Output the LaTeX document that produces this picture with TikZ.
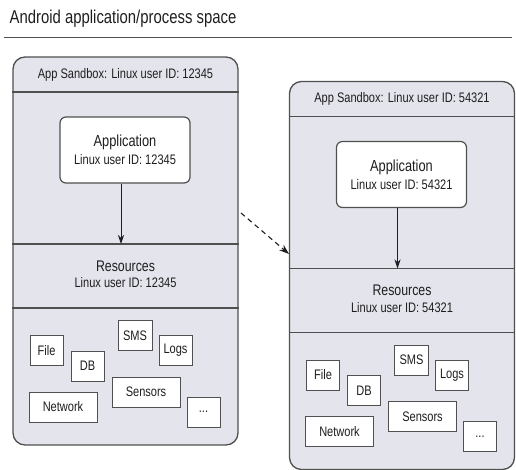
\documentclass[tikz,border=0pt]{standalone}
\usepackage{fontspec}
\setmainfont{Liberation Sans}[FakeStretch=0.8]
\usetikzlibrary{arrows.meta}
\definecolor{sbfill}{RGB}{228,228,236}
\definecolor{edge}{RGB}{80,80,80}
\definecolor{ink}{RGB}{30,30,30}

\newcommand\drawsandbox[3]{%
\begin{scope}[shift={#3}]
  \node[sandbox] (#1-sb) at (125.5,251) {};
  \draw[divider] (#1-sb.west |- 0,92) -- (#1-sb.east |- 0,92);
  \draw[divider] (#1-sb.west |- 0,244) -- (#1-sb.east |- 0,244);
  \draw[divider] (#1-sb.west |- 0,308) -- (#1-sb.east |- 0,308);
  \node[sblabel] (#1-head) at (125.5,74.5) {App Sandbox: Linux user ID: #2};
  \node[appbox] (#1-app) at (125,150) {Application\\[-1pt]{\fontsize{13.8}{15}\selectfont Linux user ID: #2}};
  \coordinate (#1-arr) at (121,244);
  \draw[flow] (#1-app.south -| #1-arr) -- (#1-arr);
  \node[restext] (#1-res) at (125.5,274.5) {Resources\\[-1.5pt]{\fontsize{13.8}{15}\selectfont Linux user ID: #2}};
  \node[item,minimum width=33pt] (#1-file) at (46.5,350.5) {File};
  \node[item,minimum width=33pt] (#1-db) at (87.5,366) {DB};
  \node[item,minimum width=34pt] (#1-sms) at (135,335.5) {SMS};
  \node[item,minimum width=33pt] (#1-logs) at (175.5,350.5) {Logs};
  \node[item,minimum width=68pt] (#1-sensors) at (146,392) {Sensors};
  \node[item,minimum width=68pt] (#1-net) at (63,407) {Network};
  \node[item,minimum width=33pt] (#1-more) at (203.5,412) {...};
\end{scope}}

\begin{document}
\begin{tikzpicture}[x=1pt,y=-1pt,
  sandbox/.style={draw=edge,line width=1.3pt,fill=sbfill,rounded corners=12pt,
    minimum width=225pt,minimum height=388pt,inner sep=0pt},
  divider/.style={draw=edge,line width=1.3pt},
  sblabel/.style={text=ink,inner sep=0pt,font=\fontsize{13.8}{15}\selectfont},
  appbox/.style={draw=edge,line width=1.2pt,fill=white,rounded corners=6pt,
    minimum width=130pt,minimum height=66pt,align=center,inner sep=0pt,text=ink,
    font=\fontsize{16}{19}\selectfont},
  restext/.style={align=center,inner sep=0pt,text=ink,font=\fontsize{15.4}{18}\selectfont},
  item/.style={draw=edge,line width=1pt,fill=white,minimum height=30pt,inner sep=0pt,
    text=ink,font=\fontsize{13.8}{15}\selectfont},
  flow/.style={-{Stealth[length=9pt,width=6pt]},draw=ink,line width=0.8pt},
  dashflow/.style={-{Stealth[length=10pt,width=7pt]},draw=ink,line width=1.1pt,
    dash pattern=on 5pt off 4pt}
]
\useasboundingbox (0,0) rectangle (516,470);

\node[anchor=west,inner sep=0pt,text=ink,font=\fontsize{18.6}{20}\selectfont] (title) at (9.5,19) {Android application/process space};
\coordinate (ruleL) at (4,37.5);
\coordinate (ruleR) at (512,37.5);
\draw[edge,line width=1.2pt] (ruleL) -- (ruleR);

\drawsandbox{L}{12345}{(0,0)}
\drawsandbox{R}{54321}{(276.5,24.5)}

\coordinate (dashA) at (241,213);
\coordinate (dashB) at (289,254);
\draw[dashflow] (dashA) -- (dashB);
\end{tikzpicture}
\end{document}
